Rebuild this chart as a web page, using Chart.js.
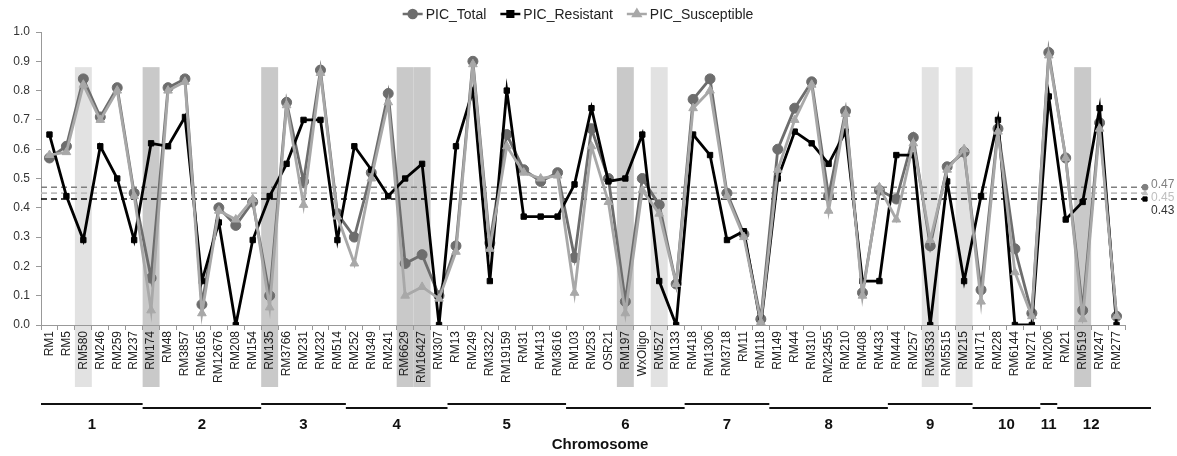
<!DOCTYPE html>
<html>
<head>
<meta charset="utf-8">
<script src="https://cdn.jsdelivr.net/npm/chart.js@4"></script>
<style>
  html, body { margin: 0; padding: 0; background: #fff; }
  canvas { display: block; }
</style>
</head>
<body>
<canvas id="picChart" width="1177" height="456"></canvas>
<script>
// markers in map order
const markers = ['RM1','RM5','RM580','RM246','RM259','RM237','RM174','RM48','RM3857','RM6165',
  'RM12676','RM208','RM154','RM135','RM3766','RM231','RM232','RM514','RM252','RM349',
  'RM241','RM6629','RM16427','RM307','RM13','RM249','RM3322','RM19159','RM31','RM413',
  'RM3616','RM103','RM253','OSR21','RM197','WxOligo','RM527','RM133','RM418','RM1306',
  'RM3718','RM11','RM118','RM149','RM44','RM310','RM23455','RM210','RM408','RM433',
  'RM444','RM257','RM3533','RM5515','RM215','RM171','RM228','RM6144','RM271','RM206',
  'RM21','RM519','RM247','RM277']

const picTotal = [0.57,0.61,0.84,0.71,0.81,0.45,0.16,0.81,0.84,0.07,
  0.40,0.34,0.42,0.10,0.76,0.49,0.87,0.38,0.30,0.52,
  0.79,0.21,0.24,0.10,0.27,0.90,0.28,0.65,0.53,0.49,
  0.52,0.23,0.67,0.50,0.08,0.50,0.41,0.14,0.77,0.84,
  0.45,0.31,0.02,0.60,0.74,0.83,0.44,0.73,0.11,0.46,
  0.43,0.64,0.27,0.54,0.59,0.12,0.67,0.26,0.04,0.93,
  0.57,0.05,0.69,0.03]

const picResistant = [0.65,0.44,0.29,0.61,0.50,0.29,0.62,0.61,0.71,0.15,
  0.35,0.00,0.29,0.44,0.55,0.70,0.70,0.29,0.61,0.53,
  0.44,0.50,0.55,0.00,0.61,0.80,0.15,0.80,0.37,0.37,
  0.37,0.48,0.74,0.49,0.50,0.65,0.15,0.00,0.65,0.58,
  0.29,0.32,0.00,0.50,0.66,0.62,0.55,0.66,0.15,0.15,
  0.58,0.58,0.00,0.49,0.15,0.44,0.70,0.00,0.00,0.78,
  0.36,0.42,0.74,0.00]

const picSusceptible = [0.58,0.59,0.82,0.70,0.80,0.44,0.05,0.80,0.83,0.04,
  0.39,0.36,0.43,0.06,0.75,0.41,0.86,0.37,0.21,0.50,
  0.76,0.10,0.13,0.09,0.25,0.89,0.26,0.61,0.52,0.50,
  0.51,0.11,0.61,0.42,0.04,0.46,0.38,0.14,0.74,0.80,
  0.44,0.30,0.01,0.53,0.70,0.82,0.39,0.72,0.10,0.47,
  0.36,0.62,0.29,0.53,0.60,0.08,0.66,0.18,0.03,0.92,
  0.57,0.02,0.67,0.03]

// mean PIC lines
const meanValues = [0.47, 0.45, 0.43]
const meanLabels = ['0.47', '0.45', '0.43']

// highlighted markers
const lightBands = ['RM580','RM527','RM3533','RM215']
const darkBands = ['RM174','RM135','RM6629','RM16427','RM197','RM519']

// chromosome groups (first and last marker)
const chromosomes = ['1','2','3','4','5','6','7','8','9','10','11','12']
const chromFirst = ['RM1','RM174','RM135','RM252','RM13','RM103','RM418','RM149','RM444','RM171','RM206','RM21']
const chromLast = ['RM237','RM154','RM514','RM307','RM3616','RM133','RM118','RM433','RM215','RM271','RM206','RM277']

const FONT = '"Liberation Sans", Arial, sans-serif'
const colTotal = '#6d6d6d'
const colRes = '#000000'
const colSus = '#a8a8a8'
const meanColors = ['#7f7f7f', '#bfbfbf', '#000000']
const meanStyles = ['circle', 'triangle', 'rect']

const bandsPlugin = {
  id: 'bands',
  beforeDraw(chart) {
    const { ctx, scales: { x, y } } = chart
    const w = x.getPixelForValue(1) - x.getPixelForValue(0)
    const top = y.getPixelForValue(0.88)
    const bottom = 387
    ctx.save()
    const draw = (names, color) => {
      ctx.fillStyle = color
      names.forEach(n => {
        const cx = x.getPixelForValue(markers.indexOf(n))
        ctx.fillRect(cx - w / 2, top, w, bottom - top)
      })
    }
    draw(lightBands, '#e2e2e2')
    draw(darkBands, '#c9c9c9')
    ctx.restore()
  }
}

const extrasPlugin = {
  id: 'extras',
  beforeDatasetsDraw(chart) {
    const { ctx, chartArea, scales: { y } } = chart
    const end = chartArea.right + 20
    ctx.save()
    meanValues.forEach((v, i) => {
      const py = y.getPixelForValue(v)
      ctx.strokeStyle = meanColors[i]
      ctx.lineWidth = 1.6
      ctx.setLineDash([6, 4])
      ctx.beginPath()
      ctx.moveTo(chartArea.left, py)
      ctx.lineTo(end, py)
      ctx.stroke()
    })
    ctx.restore()
  },
  afterDraw(chart) {
    const { ctx, chartArea, scales: { x, y } } = chart
    const end = chartArea.right + 20
    ctx.save()
    // markers and labels for the mean lines
    const labelY = [185, 198, 211]
    meanValues.forEach((v, i) => {
      const py = y.getPixelForValue(v)
      ctx.fillStyle = meanColors[i]
      ctx.strokeStyle = meanColors[i]
      Chart.helpers.drawPoint(ctx, { pointStyle: meanStyles[i], radius: 3, borderWidth: 1 }, end, py)
      ctx.fillStyle = i === 2 ? '#333' : meanColors[i]
      ctx.font = '12px ' + FONT
      ctx.textAlign = 'left'
      ctx.textBaseline = 'middle'
      ctx.fillText(meanLabels[i], end + 6, labelY[i])
    })

    // chromosome bars
    const w = x.getPixelForValue(1) - x.getPixelForValue(0)
    chromosomes.forEach((c, i) => {
      const x0 = x.getPixelForValue(markers.indexOf(chromFirst[i])) - w / 2
      let x1 = x.getPixelForValue(markers.indexOf(chromLast[i])) + w / 2
      if (i === chromosomes.length - 1) x1 += 26
      const ly = i % 2 === 0 ? 404 : 408
      ctx.strokeStyle = '#111'
      ctx.lineWidth = 2
      ctx.beginPath()
      ctx.moveTo(x0, ly)
      ctx.lineTo(x1, ly)
      ctx.stroke()
      ctx.fillStyle = '#111'
      ctx.font = 'bold 15px ' + FONT
      ctx.textAlign = 'center'
      ctx.textBaseline = 'middle'
      const cx = i === chromosomes.length - 1 ? (x0 + x1 - 26) / 2 : (x0 + x1) / 2
      ctx.fillText(c, cx, 425)
    })
    ctx.font = 'bold 15px ' + FONT
    ctx.fillText('Chromosome', 600, 445)

    // legend
    const items = [
      { text: 'PIC_Total', color: colTotal, style: 'circle' },
      { text: 'PIC_Resistant', color: colRes, style: 'rect' },
      { text: 'PIC_Susceptible', color: colSus, style: 'triangle' }
    ]
    ctx.font = '14px ' + FONT
    const lineLen = 20, gap = 3, sep = 14
    let total = 0
    items.forEach(it => { total += lineLen + gap + ctx.measureText(it.text).width })
    total += sep * (items.length - 1)
    let lx = 578 - total / 2
    const ly = 14
    items.forEach(it => {
      ctx.strokeStyle = it.color
      ctx.fillStyle = it.color
      ctx.lineWidth = 2.5
      ctx.beginPath()
      ctx.moveTo(lx, ly)
      ctx.lineTo(lx + lineLen, ly)
      ctx.stroke()
      Chart.helpers.drawPoint(ctx, { pointStyle: it.style, radius: 4, borderWidth: 1 }, lx + lineLen / 2, ly)
      ctx.fillStyle = '#222'
      ctx.textAlign = 'left'
      ctx.textBaseline = 'middle'
      ctx.fillText(it.text, lx + lineLen + gap, ly + 1)
      lx += lineLen + gap + ctx.measureText(it.text).width + sep
    })
    ctx.restore()
  }
}

const lineSet = (label, data, color, style, radius, order) => ({
  label, data,
  borderColor: color,
  backgroundColor: color,
  borderWidth: 2.8,
  pointStyle: style,
  pointRadius: radius,
  pointBorderWidth: 1,
  tension: 0,
  order
})

new Chart(document.getElementById('picChart'), {
  type: 'line',
  data: {
    labels: markers,
    datasets: [
      lineSet('PIC_Total', picTotal, colTotal, 'circle', 5, 3),
      lineSet('PIC_Resistant', picResistant, colRes, 'rect', 3.8, 2),
      lineSet('PIC_Susceptible', picSusceptible, colSus, 'triangle', 5, 1)
    ]
  },
  options: {
    responsive: false,
    animation: false,
    devicePixelRatio: 1,
    layout: { padding: { top: 32, right: 52, bottom: 67, left: 0 } },
    plugins: {
      legend: { display: false },
      tooltip: { enabled: false }
    },
    scales: {
      x: {
        offset: true,
        grid: { display: true, drawOnChartArea: false, offset: true, tickLength: 5, color: '#999' },
        border: { color: '#999', width: 1 },
        ticks: {
          autoSkip: false, minRotation: 90, maxRotation: 90, padding: 1,
          color: '#222', font: { family: FONT, size: 12 }
        },
        afterFit: s => { s.height = 64 }
      },
      y: {
        min: 0, max: 1,
        grid: { display: true, drawOnChartArea: false, tickLength: 5, color: '#999' },
        border: { color: '#999', width: 1 },
        ticks: {
          stepSize: 0.1, padding: 6, color: '#333',
          font: { family: FONT, size: 12 },
          callback: v => v.toFixed(1)
        },
        afterFit: s => { s.width = 41 }
      }
    }
  },
  plugins: [bandsPlugin, extrasPlugin]
})
</script>
</body>
</html>
